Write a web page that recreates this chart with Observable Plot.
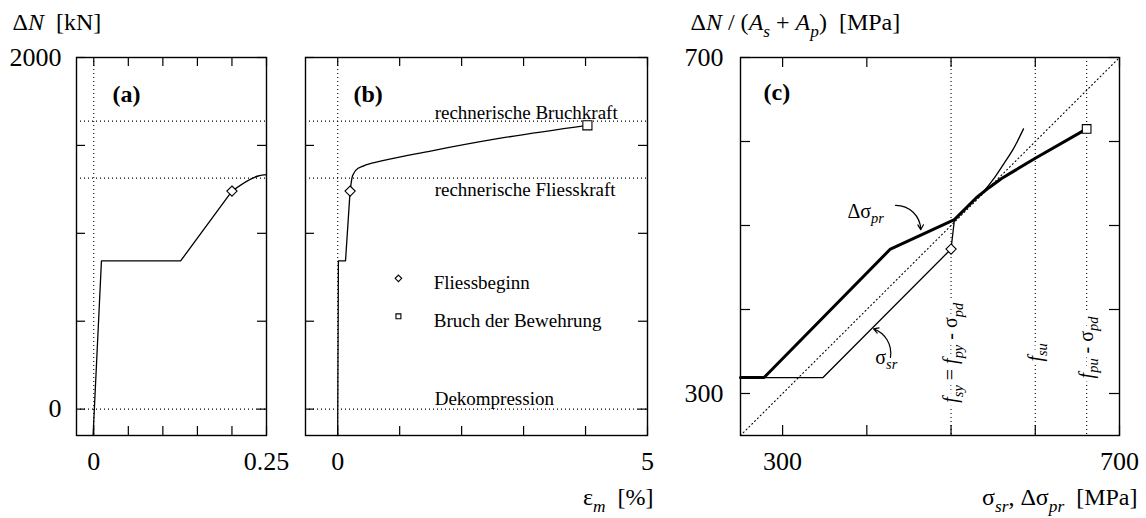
<!DOCTYPE html>
<html><head><meta charset="utf-8">
<script src="https://cdn.jsdelivr.net/npm/d3@7"></script>
<script src="https://cdn.jsdelivr.net/npm/@observablehq/plot@0.6"></script>
<style>
html,body{margin:0;padding:0;background:#fff;}
#chart{position:relative;width:1146px;height:518px;overflow:hidden;}
#chart svg{position:absolute;top:0;}
#chart text{white-space:pre;}
</style></head><body><div id="chart"></div>
<script>
// ===== DATA =====
// Panels (a) and (b): ΔN [kN] versus mean strain ε_m [%]
const epsLinear   = [-0.001, 0.0111, 0.1257, 0.2];
const dNLinear    = [-150, 843, 843, 1240];
const epsHardening = [0.2, 0.238, 0.25, 0.29, 0.42, 0.69, 1.5, 2.58, 4.03];
const dNHardening  = [1240, 1326, 1334, 1358, 1384, 1410, 1468, 1538, 1614];
const yieldEps = [0.2], yieldN = [1240];
const ruptureEps = [4.03], ruptureN = [1614];
const refForces = [0, 1314, 1638];
const refLabels = ["Dekompression", "rechnerische Fliesskraft", "rechnerische Bruchkraft"];
const refLabelEps = [1.565, 1.565, 1.565];
const refLabelN = [59, 1247, 1684];
const legendLabels = ["Fliessbeginn", "Bruch der Bewehrung"];
const legendSymbols = ["diamond2", "square2"];
const legendSymEps = [0.98, 0.98];
const legendSymN = [744, 528];
const legendTextEps = [1.55, 1.55];
const legendTextN = [720, 502];
// ticks and tick labels
const ticksA = [0, 0.05, 0.1, 0.15, 0.2, 0.25];
const ticksB = [0, 1, 2, 3, 4, 5];
const ticksN = [0, 500, 1000, 1500, 2000];
const labelsA = [0, 0.25];
const labelsB = [0, 5];
const labelsN = [0, 2000];
const ticksC = [300, 400, 500, 600, 700];
const labelsC = [300, 700];
// Panel (c): stresses [MPa]
const diagonal = [250, 700];
const dsprX = [250, 278, 428, 504, 530, 545, 560, 575, 600, 661];
const dsprY = [319, 319, 472, 507, 533, 545, 556, 565, 580, 615];
const ssrX = [250, 348, 500, 504];
const ssrY = [319, 319, 472, 507];
const ssrTailX = [504, 520, 539, 551, 563, 575, 586];
const ssrTailY = [507, 523, 541, 556, 574, 593, 615];
const yieldC = [[500, 472]];
const ruptureC = [[661, 615]];
const fLineX = [500, 600, 661];
const fLabels = ["fsy = fpy - σpd", "fsu", "fpu - σpd"];
const fLabelY = [289, 338, 318];
const curveLabels = ["Δσpr", "σsr"];
const curveLabelX = [377, 410];
const curveLabelY = [517, 343];
const arrowX1 = [434, 428], arrowY1 = [524, 343];
const arrowX2 = [464, 408], arrowY2 = [495, 377];
const arrowBend = [45, -40];
// titles
const titleA = "ΔN  [kN]";
const titleB = "εm  [%]";
const titleCy = "ΔN / (As + Ap)  [MPa]";
const titleCx = "σsr, Δσpr  [MPa]";
const panelLabels = ["(a)", "(b)", "(c)"];

// rich text (italics / subscripts) for the plain strings above
const richText = {
  "ΔN  [kN]": [["Δ"], ["N", "i"], ["  [kN]"]],
  "εm  [%]": [["ε"], ["m", "is"], ["  [%]"]],
  "ΔN / (As + Ap)  [MPa]": [["Δ"], ["N", "i"], [" / ("], ["A", "i"], ["s", "is"], [" + "], ["A", "i"], ["p", "is"], [")  [MPa]"]],
  "σsr, Δσpr  [MPa]": [["σ"], ["sr", "is"], [", Δσ"], ["pr", "is"], ["  [MPa]"]],
  "Δσpr": [["Δσ"], ["pr", "is"]],
  "σsr": [["σ"], ["sr", "is"]],
  "fsy = fpy - σpd": [["f", "i"], ["sy", "is"], [" = "], ["f", "i"], ["py", "is"], [" - σ"], ["pd", "is"]],
  "fsu": [["f", "i"], ["su", "is"]],
  "fpu - σpd": [["f", "i"], ["pu", "is"], [" - σ"], ["pd", "is"]]
};

// ===== RENDER =====
const font = '"Liberation Serif", "Times New Roman", serif';
const zip = (xs, ys) => xs.map((x, i) => ({x, y: ys[i]}));
const H = 518, mt = 57, mb = 83, frameH = H - mt - mb;
const dotted = {strokeDasharray: "1,3", strokeWidth: 1.1};
const tickLen = 9;
const tickFont = 26, titleFont = 24;

function frameTicks(xt, yt, W, len = tickLen) {
  return [
    Plot.ruleX(xt, {insetTop: frameH - len, strokeWidth: 1.2}),
    Plot.ruleX(xt, {insetBottom: frameH - len, strokeWidth: 1.2}),
    Plot.ruleY(yt, {insetRight: W - len, strokeWidth: 1.2}),
    Plot.ruleY(yt, {insetLeft: W - len, strokeWidth: 1.2})
  ];
}

const chart = document.getElementById("chart");
function place(svg, left) {
  svg.style.left = left + "px";
  chart.appendChild(svg);
}

// Panel (a)
{
  const width = 300, ml = 76, mr = 34, W = width - ml - mr;
  const svg = Plot.plot({
    width, height: H, marginLeft: ml, marginRight: mr, marginTop: mt, marginBottom: mb,
    x: {domain: [-0.025, 0.25]}, y: {domain: [-150, 2000]},
    style: {fontFamily: font, color: "black", background: "transparent", overflow: "visible"},
    marks: [
      Plot.ruleX([0], dotted),
      Plot.ruleY(refForces, dotted),
      Plot.line(zip(epsLinear, dNLinear), {x: "x", y: "y", strokeWidth: 1.3, clip: true}),
      Plot.line(zip(epsHardening, dNHardening), {x: "x", y: "y", strokeWidth: 1.3, curve: "monotone-x", clip: true}),
      Plot.dot(zip(yieldEps, yieldN), {x: "x", y: "y", symbol: "diamond2", r: 4.6, fill: "white", stroke: "black", strokeWidth: 1.1}),
      ...frameTicks(ticksA, ticksN, W),
      Plot.frame({strokeWidth: 1.4}),
      Plot.axisX(labelsA, {tickSize: 0, tickPadding: 16, fontSize: tickFont, tickFormat: d => String(d), label: null}),
      Plot.axisY(labelsN, {tickSize: 0, tickPadding: 15, fontSize: tickFont, tickFormat: d => String(d), label: null}),
      Plot.text([titleA], {frameAnchor: "top-left", dx: -64, dy: -35, textAnchor: "start", lineAnchor: "middle", fontSize: titleFont}),
      Plot.text([panelLabels[0]], {frameAnchor: "top-left", dx: 36, dy: 37, textAnchor: "start", lineAnchor: "middle", fontSize: 24, fontWeight: "bold"})
    ]
  });
  place(svg, 0);
}

// Panel (b)
{
  const width = 400, ml = 5, mr = 53, W = width - ml - mr;
  const svg = Plot.plot({
    width, height: H, marginLeft: ml, marginRight: mr, marginTop: mt, marginBottom: mb,
    x: {domain: [-0.52, 5]}, y: {domain: [-150, 2000], axis: null},
    style: {fontFamily: font, color: "black", background: "transparent", overflow: "visible"},
    marks: [
      Plot.ruleX([0], dotted),
      Plot.ruleY(refForces, dotted),
      Plot.text(refLabels, {x: refLabelEps, y: refLabelN, textAnchor: "start", fontSize: 19}),
      Plot.line(zip(epsLinear, dNLinear), {x: "x", y: "y", strokeWidth: 1.3}),
      Plot.line(zip(epsHardening, dNHardening), {x: "x", y: "y", strokeWidth: 1.3, curve: "monotone-x"}),
      Plot.dot(zip(yieldEps, yieldN), {x: "x", y: "y", symbol: "diamond2", r: 4.6, fill: "white", stroke: "black", strokeWidth: 1.1}),
      Plot.dot(zip(ruptureEps, ruptureN), {x: "x", y: "y", symbol: "square2", r: 5.8, fill: "white", stroke: "black", strokeWidth: 1.1}),
      Plot.dot(legendSymbols, {x: legendSymEps, y: legendSymN, symbol: legendSymbols, r: (d, i) => i === 0 ? 4.6 : 5.2, fill: "white", stroke: "black", strokeWidth: 1.1}),
      Plot.text(legendLabels, {x: legendTextEps, y: legendTextN, textAnchor: "start", fontSize: 19}),
      ...frameTicks(ticksB, ticksN, W),
      Plot.frame({strokeWidth: 1.4}),
      Plot.axisX(labelsB, {tickSize: 0, tickPadding: 16, fontSize: tickFont, tickFormat: d => String(d), label: null}),
      Plot.text([titleB], {frameAnchor: "bottom-right", dx: 6, dy: 62, textAnchor: "end", lineAnchor: "middle", fontSize: titleFont}),
      Plot.text([panelLabels[1]], {frameAnchor: "top-left", dx: 48, dy: 37, textAnchor: "start", lineAnchor: "middle", fontSize: 24, fontWeight: "bold"})
    ]
  });
  place(svg, 300);
}

// Panel (c)
{
  const width = 456, ml = 50, mr = 27, W = width - ml - mr;
  const svg = Plot.plot({
    width, height: H, marginLeft: ml, marginRight: mr, marginTop: mt, marginBottom: mb,
    x: {domain: [250, 700]}, y: {domain: [250, 700]},
    style: {fontFamily: font, color: "black", background: "transparent", overflow: "visible"},
    marks: [
      Plot.line(zip(diagonal, diagonal), {x: "x", y: "y", ...dotted}),
      Plot.ruleX(fLineX, dotted),
      // white halo behind the rotated labels (hides the dotted lines under the text)
      Plot.text(fLabels, {x: fLineX, y: fLabelY, rotate: -90, textAnchor: "start", fontSize: 20, fill: "white", stroke: "white", strokeWidth: 9}),
      Plot.text(fLabels, {x: fLineX, y: fLabelY, rotate: -90, textAnchor: "start", fontSize: 20, fill: "black"}),
      Plot.line(zip(ssrX, ssrY), {x: "x", y: "y", strokeWidth: 1.3}),
      Plot.line(zip(ssrTailX, ssrTailY), {x: "x", y: "y", strokeWidth: 1.3, curve: "monotone-x"}),
      Plot.line(zip(dsprX, dsprY), {x: "x", y: "y", strokeWidth: 3, strokeLinejoin: "round"}),
      Plot.dot(yieldC, {x: d => d[0], y: d => d[1], symbol: "diamond2", r: 4.6, fill: "white", stroke: "black", strokeWidth: 1.1}),
      Plot.dot(ruptureC, {x: d => d[0], y: d => d[1], symbol: "square2", r: 5.5, fill: "white", stroke: "black", strokeWidth: 1.1}),
      Plot.text(curveLabels, {x: curveLabelX, y: curveLabelY, textAnchor: "start", fontSize: 20}),
      ...arrowBend.map((b, i) => Plot.arrow([i], {x1: j => arrowX1[j], y1: j => arrowY1[j], x2: j => arrowX2[j], y2: j => arrowY2[j], bend: b, headLength: 7, strokeWidth: 1.2})),
      ...frameTicks(ticksC, ticksC, W, 10),
      Plot.frame({strokeWidth: 1.4}),
      Plot.axisX(labelsC, {tickSize: 0, tickPadding: 16, fontSize: tickFont, label: null}),
      Plot.axisY(labelsC, {tickSize: 0, tickPadding: 17, fontSize: tickFont, label: null}),
      Plot.text([titleCy], {frameAnchor: "top-left", dx: -50, dy: -35, textAnchor: "start", lineAnchor: "middle", fontSize: titleFont}),
      Plot.text([titleCx], {frameAnchor: "bottom-right", dx: 18, dy: 62, textAnchor: "end", lineAnchor: "middle", fontSize: titleFont}),
      Plot.text([panelLabels[2]], {frameAnchor: "top-left", dx: 23, dy: 35, textAnchor: "start", lineAnchor: "middle", fontSize: 24, fontWeight: "bold"})
    ]
  });
  place(svg, 690);
}

// apply italics and subscripts to the labels that need them
chart.querySelectorAll("text").forEach(el => {
  const spec = richText[el.textContent];
  if (!spec) return;
  const fs = parseFloat(getComputedStyle(el).fontSize) || 20;
  el.textContent = "";
  let shifted = false;
  for (const [t, flags = ""] of spec) {
    const ts = document.createElementNS("http://www.w3.org/2000/svg", "tspan");
    ts.textContent = t;
    if (flags.includes("i")) ts.setAttribute("font-style", "italic");
    if (flags.includes("s")) {
      ts.setAttribute("font-size", (fs * 0.72).toFixed(1));
      if (!shifted) { ts.setAttribute("dy", (fs * 0.27).toFixed(1)); shifted = true; }
    } else if (shifted) {
      ts.setAttribute("dy", (-fs * 0.27).toFixed(1));
      shifted = false;
    }
    el.appendChild(ts);
  }
});
</script></body></html>
